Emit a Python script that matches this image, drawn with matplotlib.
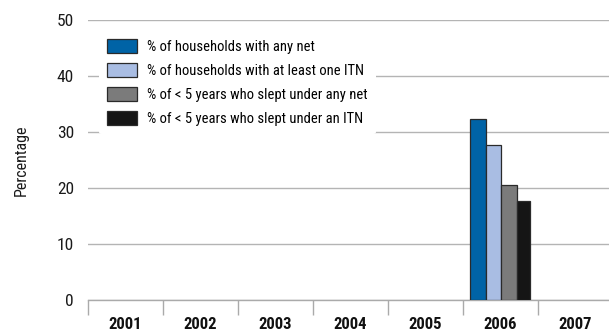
import matplotlib
matplotlib.use('Agg')
import matplotlib.pyplot as plt
import numpy as np

# data
years = ['2001', '2002', '2003', '2004', '2005', '2006', '2007']
series_names = [
    '% of households with any net',
    '% of households with at least one ITN',
    '% of < 5 years who slept under any net',
    '% of < 5 years who slept under an ITN',
]
hh_any_net = [0, 0, 0, 0, 0, 32.3, 0]
hh_itn = [0, 0, 0, 0, 0, 27.6, 0]
u5_any_net = [0, 0, 0, 0, 0, 20.5, 0]
u5_itn = [0, 0, 0, 0, 0, 17.7, 0]
has_data = [False, False, False, False, False, True, False]

colors = ['#0063a6', '#a9bde3', '#7b7b7b', '#151515']
plt.rcParams['font.family'] = ['Roboto Condensed', 'DejaVu Sans']

fig = plt.figure(figsize=(6.09, 3.33), dpi=100)
ax = fig.add_axes([88 / 609, 1 - 300 / 333, 1 - 88 / 609, 280 / 333])

x = np.arange(len(years))
offsets = [-0.3, -0.09, 0.12, 0.31]
widths = [0.21, 0.21, 0.21, 0.18]
all_series = [hh_any_net, hh_itn, u5_any_net, u5_itn]
for vals, off, w, col, name in zip(all_series, offsets, widths, colors, series_names):
    v = [val if ok else np.nan for val, ok in zip(vals, has_data)]
    ax.bar(x + off, v, w, color=col, edgecolor='#2a2a2a', linewidth=0.9,
           label=name, zorder=3)

ax.set_xlim(-0.5, 6.45)
ax.set_ylim(0, 50)
ax.set_yticks([0, 10, 20, 30, 40, 50])
ax.yaxis.grid(True, color='#b4b4b4', linewidth=1.0, zorder=0)
ax.set_axisbelow(True)

# ticks on category boundaries, labels at centres
ax.set_xticks(np.arange(-0.5, 6.5, 1.0))
ax.set_xticklabels([])
ax.set_xticks(x, minor=True)
ax.set_xticklabels(years, minor=True, fontsize=12, fontweight='bold', color='#111111')
ax.tick_params(axis='x', which='major', length=11, color='#aaaaaa', width=1)
ax.tick_params(axis='x', which='minor', length=0, pad=12)
ax.tick_params(axis='y', length=0, labelsize=12.5, pad=10, labelcolor='#1a1a1a')

for s in ['top', 'right', 'left']:
    ax.spines[s].set_visible(False)
ax.spines['bottom'].set_color('#aaaaaa')
ax.spines['bottom'].set_linewidth(1.0)

ax.set_ylabel('Percentage', fontsize=11.5, labelpad=20, color='#1a1a1a')

leg = ax.legend(loc='upper left', bbox_to_anchor=(0.012, 0.98), frameon=True,
                fontsize=10.5, handlelength=2.0, handleheight=1.1,
                handletextpad=0.7, labelspacing=0.62, borderaxespad=0.3,
                borderpad=0.6)
leg.get_frame().set_facecolor('white')
leg.get_frame().set_edgecolor('none')
leg.get_frame().set_alpha(1)
leg.set_zorder(5)

fig.savefig('out.png', dpi=100)
